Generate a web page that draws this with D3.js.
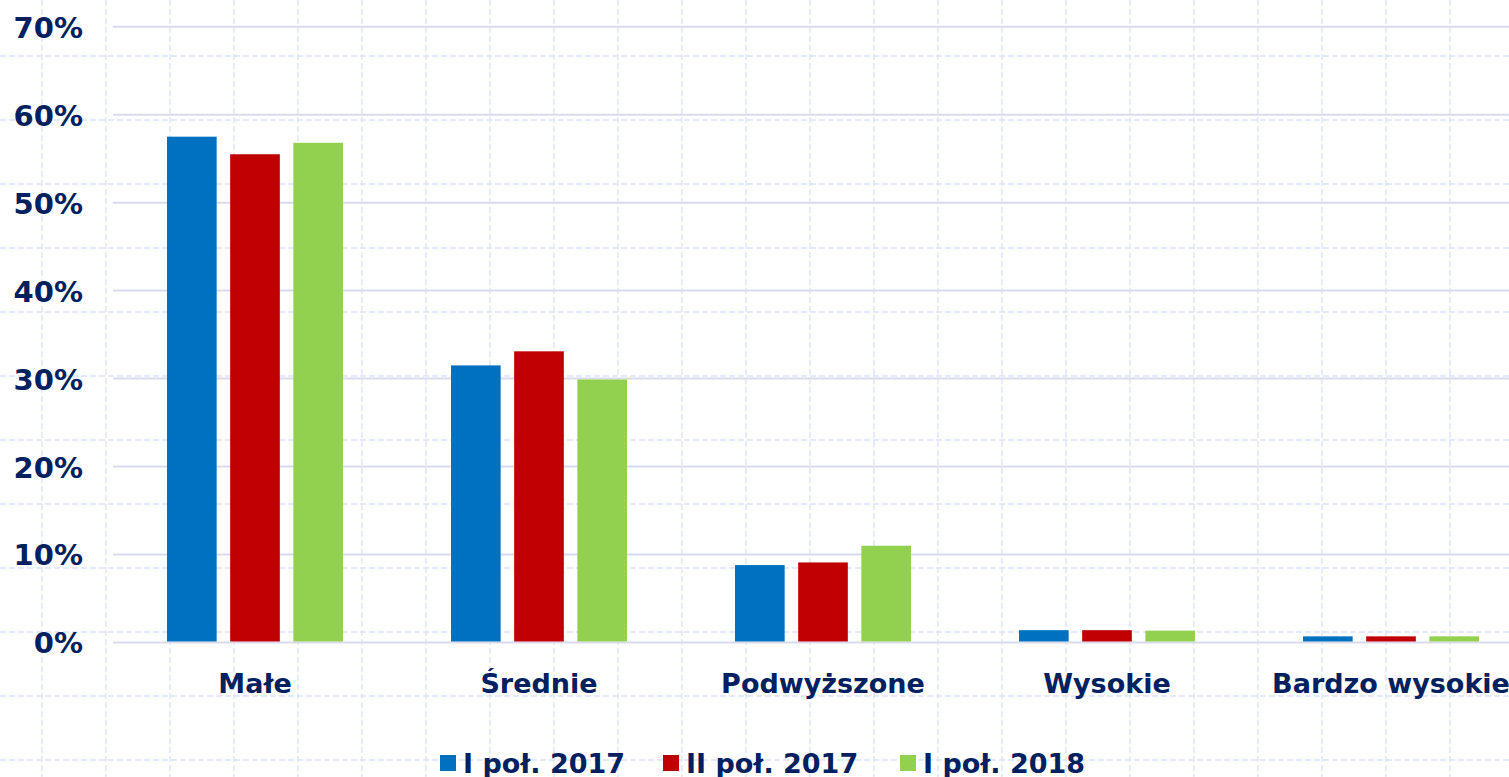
<!DOCTYPE html>
<html>
<head>
<meta charset="utf-8">
<script src="https://cdn.jsdelivr.net/npm/d3@7"></script>
<style>
  html, body { margin: 0; padding: 0; background: #fff; overflow: hidden; }
  svg { display: block; }
</style>
</head>
<body>
<svg id="chart" width="1509" height="777"></svg>
<script>
const categories = ["Małe", "Średnie", "Podwyższone", "Wysokie", "Bardzo wysokie"];
const seriesNames = ["I poł. 2017", "II poł. 2017", "I poł. 2018"];
const seriesColors = ["#0070c0", "#c00000", "#92d050"];
const values2017H1 = [57.5, 31.5, 8.8, 1.4, 0.7];
const values2017H2 = [55.5, 33.1, 9.1, 1.4, 0.7];
const values2018H1 = [56.8, 29.9, 11.0, 1.35, 0.7];
const yTicks = [0, 10, 20, 30, 40, 50, 60, 70];

const seriesValues = [values2017H1, values2017H2, values2018H1];
const W = 1509, H = 777;
const svg = d3.select("#chart");
const textColor = "#002060";
const font = "'DejaVu Sans', Verdana, sans-serif";

// background graph-paper grid
const bg = svg.append("g");
const gridStep = 64;
d3.range(42, W, gridStep).forEach(x => {
  bg.append("line").attr("x1", x).attr("x2", x).attr("y1", 0).attr("y2", H)
    .attr("stroke", "#dbe3fb").attr("stroke-width", 1.3).attr("stroke-dasharray", "6,3");
});
d3.range(56, H, gridStep).forEach(y => {
  bg.append("line").attr("x1", 0).attr("x2", W).attr("y1", y).attr("y2", y)
    .attr("stroke", "#dbe3fb").attr("stroke-width", 1.3).attr("stroke-dasharray", "6,3");
});

const y = d3.scaleLinear().domain([0, 70]).range([642.5, 26.7]);
const x0 = d3.scaleBand().domain(categories).range([113, 1533]).paddingInner(0).paddingOuter(0);
const x1 = d3.scaleBand().domain(seriesNames).range([54, 284 - 54]).paddingInner(0.214).paddingOuter(0);

// value gridlines
svg.append("g").selectAll("line").data(yTicks).join("line")
  .attr("x1", 113).attr("x2", W)
  .attr("y1", d => y(d)).attr("y2", d => y(d))
  .attr("stroke", "#d9dbec").attr("stroke-width", 2);

// y axis labels
const yAxis = d3.axisLeft(y).tickValues(yTicks).tickFormat(d => d + "%").tickSize(0).tickPadding(0);
const ya = svg.append("g").attr("transform", "translate(83,0)").call(yAxis);
ya.select(".domain").remove();
ya.selectAll("text").attr("font-family", font).attr("font-weight", "bold")
  .attr("font-size", 29).attr("fill", textColor).attr("dy", "0.36em");

// bars
const groups = svg.append("g").selectAll("g").data(categories).join("g")
  .attr("transform", d => `translate(${x0(d)},0)`);
groups.selectAll("rect").data((c, ci) => seriesNames.map((s, si) => ({s, si, v: seriesValues[si][ci]})))
  .join("rect")
  .attr("x", d => x1(d.s))
  .attr("width", x1.bandwidth())
  .attr("y", d => y(d.v))
  .attr("height", d => y(0) - 1 - y(d.v))
  .attr("fill", d => seriesColors[d.si]);

// category labels
const xAxis = d3.axisBottom(x0).tickSize(0).tickPadding(0);
const xa = svg.append("g").attr("transform", "translate(0,693)").call(xAxis);
xa.select(".domain").remove();
xa.selectAll("text").attr("font-family", font).attr("font-weight", "bold")
  .attr("font-size", 27).attr("fill", textColor).attr("dy", 0).attr("y", 0);

// legend
const legendX = [440, 663, 900];
const lg = svg.append("g").selectAll("g").data(seriesNames).join("g")
  .attr("transform", (d, i) => `translate(${legendX[i]},0)`);
lg.append("rect").attr("x", 0).attr("y", 755).attr("width", 16).attr("height", 16)
  .attr("fill", (d, i) => seriesColors[i]);
lg.append("text").attr("x", 23).attr("y", 773).text(d => d)
  .attr("font-family", font).attr("font-weight", "bold").attr("font-size", 27).attr("fill", textColor);
</script>
</body>
</html>
